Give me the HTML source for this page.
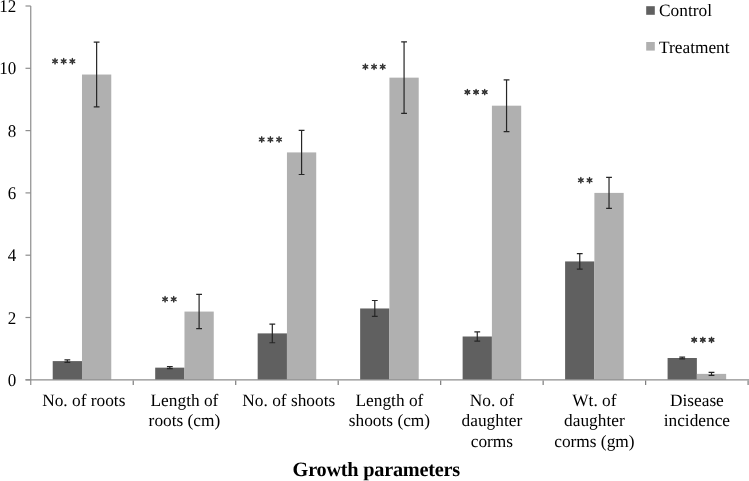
<!DOCTYPE html>
<html><head><meta charset="utf-8"><style>
html,body{margin:0;padding:0;background:#fff;}
body{width:749px;height:481px;position:relative;overflow:hidden;font-family:"Liberation Serif",serif;color:#000;}
</style></head><body>
<svg width="749" height="481" viewBox="0 0 749 481" style="position:absolute;left:0;top:0;will-change:transform" font-family="Liberation Serif, serif" text-rendering="geometricPrecision">
<rect x="52.71" y="361.11" width="29.28" height="18.69" fill="#606060"/>
<rect x="81.99" y="74.53" width="29.28" height="305.27" fill="#b0b0b0"/>
<rect x="155.19" y="367.65" width="29.28" height="12.15" fill="#606060"/>
<rect x="184.47" y="311.58" width="29.28" height="68.22" fill="#b0b0b0"/>
<rect x="257.67" y="333.39" width="29.28" height="46.41" fill="#606060"/>
<rect x="286.95" y="152.41" width="29.28" height="227.40" fill="#b0b0b0"/>
<rect x="360.15" y="308.47" width="29.28" height="71.33" fill="#606060"/>
<rect x="389.43" y="77.65" width="29.28" height="302.15" fill="#b0b0b0"/>
<rect x="462.63" y="336.50" width="29.28" height="43.30" fill="#606060"/>
<rect x="491.91" y="105.68" width="29.28" height="274.12" fill="#b0b0b0"/>
<rect x="565.11" y="261.43" width="29.28" height="118.37" fill="#606060"/>
<rect x="594.39" y="192.90" width="29.28" height="186.90" fill="#b0b0b0"/>
<rect x="667.59" y="358.00" width="29.28" height="21.81" fill="#606060"/>
<rect x="696.87" y="373.88" width="29.28" height="5.92" fill="#b0b0b0"/>
<path d="M30.75 6.00V385" stroke="#8e8e8e" stroke-width="1.2" fill="none"/>
<path d="M25.5 379.80H749" stroke="#8e8e8e" stroke-width="1.2" fill="none"/>
<path d="M25.5 379.80H30.75" stroke="#8e8e8e" stroke-width="1.2" fill="none"/>
<path d="M25.5 317.50H30.75" stroke="#8e8e8e" stroke-width="1.2" fill="none"/>
<path d="M25.5 255.20H30.75" stroke="#8e8e8e" stroke-width="1.2" fill="none"/>
<path d="M25.5 192.90H30.75" stroke="#8e8e8e" stroke-width="1.2" fill="none"/>
<path d="M25.5 130.60H30.75" stroke="#8e8e8e" stroke-width="1.2" fill="none"/>
<path d="M25.5 68.30H30.75" stroke="#8e8e8e" stroke-width="1.2" fill="none"/>
<path d="M25.5 6.00H30.75" stroke="#8e8e8e" stroke-width="1.2" fill="none"/>
<path d="M133.23 380.40V385" stroke="#7c7c7c" stroke-width="1.2" fill="none"/>
<path d="M235.71 380.40V385" stroke="#7c7c7c" stroke-width="1.2" fill="none"/>
<path d="M338.19 380.40V385" stroke="#7c7c7c" stroke-width="1.2" fill="none"/>
<path d="M440.67 380.40V385" stroke="#7c7c7c" stroke-width="1.2" fill="none"/>
<path d="M543.15 380.40V385" stroke="#7c7c7c" stroke-width="1.2" fill="none"/>
<path d="M645.63 380.40V385" stroke="#7c7c7c" stroke-width="1.2" fill="none"/>
<path d="M748.11 380.40V385" stroke="#7c7c7c" stroke-width="1.2" fill="none"/>
<path d="M67.35 359.86V362.36M64.45 359.86H70.25M64.45 362.36H70.25" stroke="#262626" stroke-width="1.2" fill="none"/>
<path d="M96.63 42.13V106.93M93.73 42.13H99.53M93.73 106.93H99.53" stroke="#262626" stroke-width="1.2" fill="none"/>
<path d="M169.83 366.65V368.65M166.93 366.65H172.73M166.93 368.65H172.73" stroke="#262626" stroke-width="1.2" fill="none"/>
<path d="M199.11 294.45V328.71M196.21 294.45H202.01M196.21 328.71H202.01" stroke="#262626" stroke-width="1.2" fill="none"/>
<path d="M272.31 324.04V342.73M269.41 324.04H275.21M269.41 342.73H275.21" stroke="#262626" stroke-width="1.2" fill="none"/>
<path d="M301.59 130.29V174.52M298.69 130.29H304.49M298.69 174.52H304.49" stroke="#262626" stroke-width="1.2" fill="none"/>
<path d="M374.79 300.52V316.41M371.89 300.52H377.69M371.89 316.41H377.69" stroke="#262626" stroke-width="1.2" fill="none"/>
<path d="M404.07 41.82V113.47M401.17 41.82H406.97M401.17 113.47H406.97" stroke="#262626" stroke-width="1.2" fill="none"/>
<path d="M477.27 331.83V341.17M474.37 331.83H480.17M474.37 341.17H480.17" stroke="#262626" stroke-width="1.2" fill="none"/>
<path d="M506.55 79.83V131.53M503.65 79.83H509.45M503.65 131.53H509.45" stroke="#262626" stroke-width="1.2" fill="none"/>
<path d="M579.75 253.64V269.22M576.85 253.64H582.65M576.85 269.22H582.65" stroke="#262626" stroke-width="1.2" fill="none"/>
<path d="M609.03 177.32V208.47M606.13 177.32H611.93M606.13 208.47H611.93" stroke="#262626" stroke-width="1.2" fill="none"/>
<path d="M682.23 357.06V358.93M679.33 357.06H685.13M679.33 358.93H685.13" stroke="#262626" stroke-width="1.2" fill="none"/>
<path d="M711.51 372.32V375.44M708.61 372.32H714.41M708.61 375.44H714.41" stroke="#262626" stroke-width="1.2" fill="none"/>
<text x="16.3" y="385.91" font-size="17.9" text-anchor="end" transform="translate(16.3 0) scale(0.95 1) translate(-16.3 0)">0</text>
<text x="16.3" y="323.61" font-size="17.9" text-anchor="end" transform="translate(16.3 0) scale(0.95 1) translate(-16.3 0)">2</text>
<text x="16.3" y="261.31" font-size="17.9" text-anchor="end" transform="translate(16.3 0) scale(0.95 1) translate(-16.3 0)">4</text>
<text x="16.3" y="199.01" font-size="17.9" text-anchor="end" transform="translate(16.3 0) scale(0.95 1) translate(-16.3 0)">6</text>
<text x="16.3" y="136.71" font-size="17.9" text-anchor="end" transform="translate(16.3 0) scale(0.95 1) translate(-16.3 0)">8</text>
<text x="16.3" y="74.41" font-size="17.9" text-anchor="end" transform="translate(16.3 0) scale(0.95 1) translate(-16.3 0)">10</text>
<text x="16.3" y="12.11" font-size="17.9" text-anchor="end" transform="translate(16.3 0) scale(0.95 1) translate(-16.3 0)">12</text>
<text x="83.79" y="406.30" font-size="17.33" text-anchor="middle">No. of roots</text>
<ellipse cx="55.03" cy="59.45" rx="1.7" ry="0.8" transform="rotate(-90 55.03 59.45)" fill="#2c2c2c"/>
<ellipse cx="56.55" cy="60.33" rx="1.7" ry="0.8" transform="rotate(-30 56.55 60.33)" fill="#2c2c2c"/>
<ellipse cx="56.55" cy="62.08" rx="1.7" ry="0.8" transform="rotate(30 56.55 62.08)" fill="#2c2c2c"/>
<ellipse cx="55.03" cy="62.95" rx="1.7" ry="0.8" transform="rotate(90 55.03 62.95)" fill="#2c2c2c"/>
<ellipse cx="53.51" cy="60.33" rx="1.7" ry="0.8" transform="rotate(-150 53.51 60.33)" fill="#2c2c2c"/>
<ellipse cx="53.51" cy="62.08" rx="1.7" ry="0.8" transform="rotate(-210 53.51 62.08)" fill="#2c2c2c"/>
<ellipse cx="63.70" cy="59.45" rx="1.7" ry="0.8" transform="rotate(-90 63.70 59.45)" fill="#2c2c2c"/>
<ellipse cx="65.22" cy="60.33" rx="1.7" ry="0.8" transform="rotate(-30 65.22 60.33)" fill="#2c2c2c"/>
<ellipse cx="65.22" cy="62.08" rx="1.7" ry="0.8" transform="rotate(30 65.22 62.08)" fill="#2c2c2c"/>
<ellipse cx="63.70" cy="62.95" rx="1.7" ry="0.8" transform="rotate(90 63.70 62.95)" fill="#2c2c2c"/>
<ellipse cx="62.18" cy="60.33" rx="1.7" ry="0.8" transform="rotate(-150 62.18 60.33)" fill="#2c2c2c"/>
<ellipse cx="62.18" cy="62.08" rx="1.7" ry="0.8" transform="rotate(-210 62.18 62.08)" fill="#2c2c2c"/>
<ellipse cx="72.37" cy="59.45" rx="1.7" ry="0.8" transform="rotate(-90 72.37 59.45)" fill="#2c2c2c"/>
<ellipse cx="73.89" cy="60.33" rx="1.7" ry="0.8" transform="rotate(-30 73.89 60.33)" fill="#2c2c2c"/>
<ellipse cx="73.89" cy="62.08" rx="1.7" ry="0.8" transform="rotate(30 73.89 62.08)" fill="#2c2c2c"/>
<ellipse cx="72.37" cy="62.95" rx="1.7" ry="0.8" transform="rotate(90 72.37 62.95)" fill="#2c2c2c"/>
<ellipse cx="70.85" cy="60.33" rx="1.7" ry="0.8" transform="rotate(-150 70.85 60.33)" fill="#2c2c2c"/>
<ellipse cx="70.85" cy="62.08" rx="1.7" ry="0.8" transform="rotate(-210 70.85 62.08)" fill="#2c2c2c"/>
<text x="184.47" y="406.30" font-size="17.33" text-anchor="middle">Length of</text>
<text x="184.47" y="426.40" font-size="17.33" text-anchor="middle">roots (cm)</text>
<ellipse cx="165.07" cy="297.55" rx="1.7" ry="0.8" transform="rotate(-90 165.07 297.55)" fill="#2c2c2c"/>
<ellipse cx="166.59" cy="298.43" rx="1.7" ry="0.8" transform="rotate(-30 166.59 298.43)" fill="#2c2c2c"/>
<ellipse cx="166.59" cy="300.18" rx="1.7" ry="0.8" transform="rotate(30 166.59 300.18)" fill="#2c2c2c"/>
<ellipse cx="165.07" cy="301.05" rx="1.7" ry="0.8" transform="rotate(90 165.07 301.05)" fill="#2c2c2c"/>
<ellipse cx="163.55" cy="298.43" rx="1.7" ry="0.8" transform="rotate(-150 163.55 298.43)" fill="#2c2c2c"/>
<ellipse cx="163.55" cy="300.18" rx="1.7" ry="0.8" transform="rotate(-210 163.55 300.18)" fill="#2c2c2c"/>
<ellipse cx="173.74" cy="297.55" rx="1.7" ry="0.8" transform="rotate(-90 173.74 297.55)" fill="#2c2c2c"/>
<ellipse cx="175.26" cy="298.43" rx="1.7" ry="0.8" transform="rotate(-30 175.26 298.43)" fill="#2c2c2c"/>
<ellipse cx="175.26" cy="300.18" rx="1.7" ry="0.8" transform="rotate(30 175.26 300.18)" fill="#2c2c2c"/>
<ellipse cx="173.74" cy="301.05" rx="1.7" ry="0.8" transform="rotate(90 173.74 301.05)" fill="#2c2c2c"/>
<ellipse cx="172.22" cy="298.43" rx="1.7" ry="0.8" transform="rotate(-150 172.22 298.43)" fill="#2c2c2c"/>
<ellipse cx="172.22" cy="300.18" rx="1.7" ry="0.8" transform="rotate(-210 172.22 300.18)" fill="#2c2c2c"/>
<text x="288.75" y="406.30" font-size="17.33" text-anchor="middle">No. of shoots</text>
<ellipse cx="261.73" cy="137.75" rx="1.7" ry="0.8" transform="rotate(-90 261.73 137.75)" fill="#2c2c2c"/>
<ellipse cx="263.25" cy="138.62" rx="1.7" ry="0.8" transform="rotate(-30 263.25 138.62)" fill="#2c2c2c"/>
<ellipse cx="263.25" cy="140.38" rx="1.7" ry="0.8" transform="rotate(30 263.25 140.38)" fill="#2c2c2c"/>
<ellipse cx="261.73" cy="141.25" rx="1.7" ry="0.8" transform="rotate(90 261.73 141.25)" fill="#2c2c2c"/>
<ellipse cx="260.21" cy="138.62" rx="1.7" ry="0.8" transform="rotate(-150 260.21 138.62)" fill="#2c2c2c"/>
<ellipse cx="260.21" cy="140.38" rx="1.7" ry="0.8" transform="rotate(-210 260.21 140.38)" fill="#2c2c2c"/>
<ellipse cx="270.40" cy="137.75" rx="1.7" ry="0.8" transform="rotate(-90 270.40 137.75)" fill="#2c2c2c"/>
<ellipse cx="271.92" cy="138.62" rx="1.7" ry="0.8" transform="rotate(-30 271.92 138.62)" fill="#2c2c2c"/>
<ellipse cx="271.92" cy="140.38" rx="1.7" ry="0.8" transform="rotate(30 271.92 140.38)" fill="#2c2c2c"/>
<ellipse cx="270.40" cy="141.25" rx="1.7" ry="0.8" transform="rotate(90 270.40 141.25)" fill="#2c2c2c"/>
<ellipse cx="268.88" cy="138.62" rx="1.7" ry="0.8" transform="rotate(-150 268.88 138.62)" fill="#2c2c2c"/>
<ellipse cx="268.88" cy="140.38" rx="1.7" ry="0.8" transform="rotate(-210 268.88 140.38)" fill="#2c2c2c"/>
<ellipse cx="279.07" cy="137.75" rx="1.7" ry="0.8" transform="rotate(-90 279.07 137.75)" fill="#2c2c2c"/>
<ellipse cx="280.59" cy="138.62" rx="1.7" ry="0.8" transform="rotate(-30 280.59 138.62)" fill="#2c2c2c"/>
<ellipse cx="280.59" cy="140.38" rx="1.7" ry="0.8" transform="rotate(30 280.59 140.38)" fill="#2c2c2c"/>
<ellipse cx="279.07" cy="141.25" rx="1.7" ry="0.8" transform="rotate(90 279.07 141.25)" fill="#2c2c2c"/>
<ellipse cx="277.55" cy="138.62" rx="1.7" ry="0.8" transform="rotate(-150 277.55 138.62)" fill="#2c2c2c"/>
<ellipse cx="277.55" cy="140.38" rx="1.7" ry="0.8" transform="rotate(-210 277.55 140.38)" fill="#2c2c2c"/>
<text x="389.43" y="406.30" font-size="17.33" text-anchor="middle">Length of</text>
<text x="389.43" y="426.40" font-size="17.33" text-anchor="middle">shoots (cm)</text>
<ellipse cx="365.38" cy="65.00" rx="1.7" ry="0.8" transform="rotate(-90 365.38 65.00)" fill="#2c2c2c"/>
<ellipse cx="366.90" cy="65.88" rx="1.7" ry="0.8" transform="rotate(-30 366.90 65.88)" fill="#2c2c2c"/>
<ellipse cx="366.90" cy="67.62" rx="1.7" ry="0.8" transform="rotate(30 366.90 67.62)" fill="#2c2c2c"/>
<ellipse cx="365.38" cy="68.50" rx="1.7" ry="0.8" transform="rotate(90 365.38 68.50)" fill="#2c2c2c"/>
<ellipse cx="363.86" cy="65.88" rx="1.7" ry="0.8" transform="rotate(-150 363.86 65.88)" fill="#2c2c2c"/>
<ellipse cx="363.86" cy="67.62" rx="1.7" ry="0.8" transform="rotate(-210 363.86 67.62)" fill="#2c2c2c"/>
<ellipse cx="374.05" cy="65.00" rx="1.7" ry="0.8" transform="rotate(-90 374.05 65.00)" fill="#2c2c2c"/>
<ellipse cx="375.57" cy="65.88" rx="1.7" ry="0.8" transform="rotate(-30 375.57 65.88)" fill="#2c2c2c"/>
<ellipse cx="375.57" cy="67.62" rx="1.7" ry="0.8" transform="rotate(30 375.57 67.62)" fill="#2c2c2c"/>
<ellipse cx="374.05" cy="68.50" rx="1.7" ry="0.8" transform="rotate(90 374.05 68.50)" fill="#2c2c2c"/>
<ellipse cx="372.53" cy="65.88" rx="1.7" ry="0.8" transform="rotate(-150 372.53 65.88)" fill="#2c2c2c"/>
<ellipse cx="372.53" cy="67.62" rx="1.7" ry="0.8" transform="rotate(-210 372.53 67.62)" fill="#2c2c2c"/>
<ellipse cx="382.72" cy="65.00" rx="1.7" ry="0.8" transform="rotate(-90 382.72 65.00)" fill="#2c2c2c"/>
<ellipse cx="384.24" cy="65.88" rx="1.7" ry="0.8" transform="rotate(-30 384.24 65.88)" fill="#2c2c2c"/>
<ellipse cx="384.24" cy="67.62" rx="1.7" ry="0.8" transform="rotate(30 384.24 67.62)" fill="#2c2c2c"/>
<ellipse cx="382.72" cy="68.50" rx="1.7" ry="0.8" transform="rotate(90 382.72 68.50)" fill="#2c2c2c"/>
<ellipse cx="381.20" cy="65.88" rx="1.7" ry="0.8" transform="rotate(-150 381.20 65.88)" fill="#2c2c2c"/>
<ellipse cx="381.20" cy="67.62" rx="1.7" ry="0.8" transform="rotate(-210 381.20 67.62)" fill="#2c2c2c"/>
<text x="491.91" y="406.30" font-size="17.33" text-anchor="middle">No. of</text>
<text x="491.91" y="426.40" font-size="17.33" text-anchor="middle">daughter</text>
<text x="491.91" y="446.50" font-size="17.33" text-anchor="middle">corms</text>
<ellipse cx="467.38" cy="90.35" rx="1.7" ry="0.8" transform="rotate(-90 467.38 90.35)" fill="#2c2c2c"/>
<ellipse cx="468.90" cy="91.22" rx="1.7" ry="0.8" transform="rotate(-30 468.90 91.22)" fill="#2c2c2c"/>
<ellipse cx="468.90" cy="92.97" rx="1.7" ry="0.8" transform="rotate(30 468.90 92.97)" fill="#2c2c2c"/>
<ellipse cx="467.38" cy="93.85" rx="1.7" ry="0.8" transform="rotate(90 467.38 93.85)" fill="#2c2c2c"/>
<ellipse cx="465.86" cy="91.22" rx="1.7" ry="0.8" transform="rotate(-150 465.86 91.22)" fill="#2c2c2c"/>
<ellipse cx="465.86" cy="92.97" rx="1.7" ry="0.8" transform="rotate(-210 465.86 92.97)" fill="#2c2c2c"/>
<ellipse cx="476.05" cy="90.35" rx="1.7" ry="0.8" transform="rotate(-90 476.05 90.35)" fill="#2c2c2c"/>
<ellipse cx="477.57" cy="91.22" rx="1.7" ry="0.8" transform="rotate(-30 477.57 91.22)" fill="#2c2c2c"/>
<ellipse cx="477.57" cy="92.97" rx="1.7" ry="0.8" transform="rotate(30 477.57 92.97)" fill="#2c2c2c"/>
<ellipse cx="476.05" cy="93.85" rx="1.7" ry="0.8" transform="rotate(90 476.05 93.85)" fill="#2c2c2c"/>
<ellipse cx="474.53" cy="91.22" rx="1.7" ry="0.8" transform="rotate(-150 474.53 91.22)" fill="#2c2c2c"/>
<ellipse cx="474.53" cy="92.97" rx="1.7" ry="0.8" transform="rotate(-210 474.53 92.97)" fill="#2c2c2c"/>
<ellipse cx="484.72" cy="90.35" rx="1.7" ry="0.8" transform="rotate(-90 484.72 90.35)" fill="#2c2c2c"/>
<ellipse cx="486.24" cy="91.22" rx="1.7" ry="0.8" transform="rotate(-30 486.24 91.22)" fill="#2c2c2c"/>
<ellipse cx="486.24" cy="92.97" rx="1.7" ry="0.8" transform="rotate(30 486.24 92.97)" fill="#2c2c2c"/>
<ellipse cx="484.72" cy="93.85" rx="1.7" ry="0.8" transform="rotate(90 484.72 93.85)" fill="#2c2c2c"/>
<ellipse cx="483.20" cy="91.22" rx="1.7" ry="0.8" transform="rotate(-150 483.20 91.22)" fill="#2c2c2c"/>
<ellipse cx="483.20" cy="92.97" rx="1.7" ry="0.8" transform="rotate(-210 483.20 92.97)" fill="#2c2c2c"/>
<text x="594.39" y="406.30" font-size="17.33" text-anchor="middle">Wt. of</text>
<text x="594.39" y="426.40" font-size="17.33" text-anchor="middle">daughter</text>
<text x="594.39" y="446.50" font-size="17.33" text-anchor="middle">corms (gm)</text>
<ellipse cx="580.87" cy="178.55" rx="1.7" ry="0.8" transform="rotate(-90 580.87 178.55)" fill="#2c2c2c"/>
<ellipse cx="582.39" cy="179.43" rx="1.7" ry="0.8" transform="rotate(-30 582.39 179.43)" fill="#2c2c2c"/>
<ellipse cx="582.39" cy="181.18" rx="1.7" ry="0.8" transform="rotate(30 582.39 181.18)" fill="#2c2c2c"/>
<ellipse cx="580.87" cy="182.05" rx="1.7" ry="0.8" transform="rotate(90 580.87 182.05)" fill="#2c2c2c"/>
<ellipse cx="579.35" cy="179.43" rx="1.7" ry="0.8" transform="rotate(-150 579.35 179.43)" fill="#2c2c2c"/>
<ellipse cx="579.35" cy="181.18" rx="1.7" ry="0.8" transform="rotate(-210 579.35 181.18)" fill="#2c2c2c"/>
<ellipse cx="589.54" cy="178.55" rx="1.7" ry="0.8" transform="rotate(-90 589.54 178.55)" fill="#2c2c2c"/>
<ellipse cx="591.06" cy="179.43" rx="1.7" ry="0.8" transform="rotate(-30 591.06 179.43)" fill="#2c2c2c"/>
<ellipse cx="591.06" cy="181.18" rx="1.7" ry="0.8" transform="rotate(30 591.06 181.18)" fill="#2c2c2c"/>
<ellipse cx="589.54" cy="182.05" rx="1.7" ry="0.8" transform="rotate(90 589.54 182.05)" fill="#2c2c2c"/>
<ellipse cx="588.02" cy="179.43" rx="1.7" ry="0.8" transform="rotate(-150 588.02 179.43)" fill="#2c2c2c"/>
<ellipse cx="588.02" cy="181.18" rx="1.7" ry="0.8" transform="rotate(-210 588.02 181.18)" fill="#2c2c2c"/>
<text x="696.87" y="406.30" font-size="17.33" text-anchor="middle">Disease</text>
<text x="696.87" y="426.40" font-size="17.33" text-anchor="middle">incidence</text>
<ellipse cx="694.18" cy="338.15" rx="1.7" ry="0.8" transform="rotate(-90 694.18 338.15)" fill="#2c2c2c"/>
<ellipse cx="695.70" cy="339.02" rx="1.7" ry="0.8" transform="rotate(-30 695.70 339.02)" fill="#2c2c2c"/>
<ellipse cx="695.70" cy="340.77" rx="1.7" ry="0.8" transform="rotate(30 695.70 340.77)" fill="#2c2c2c"/>
<ellipse cx="694.18" cy="341.65" rx="1.7" ry="0.8" transform="rotate(90 694.18 341.65)" fill="#2c2c2c"/>
<ellipse cx="692.66" cy="339.02" rx="1.7" ry="0.8" transform="rotate(-150 692.66 339.02)" fill="#2c2c2c"/>
<ellipse cx="692.66" cy="340.77" rx="1.7" ry="0.8" transform="rotate(-210 692.66 340.77)" fill="#2c2c2c"/>
<ellipse cx="702.85" cy="338.15" rx="1.7" ry="0.8" transform="rotate(-90 702.85 338.15)" fill="#2c2c2c"/>
<ellipse cx="704.37" cy="339.02" rx="1.7" ry="0.8" transform="rotate(-30 704.37 339.02)" fill="#2c2c2c"/>
<ellipse cx="704.37" cy="340.77" rx="1.7" ry="0.8" transform="rotate(30 704.37 340.77)" fill="#2c2c2c"/>
<ellipse cx="702.85" cy="341.65" rx="1.7" ry="0.8" transform="rotate(90 702.85 341.65)" fill="#2c2c2c"/>
<ellipse cx="701.33" cy="339.02" rx="1.7" ry="0.8" transform="rotate(-150 701.33 339.02)" fill="#2c2c2c"/>
<ellipse cx="701.33" cy="340.77" rx="1.7" ry="0.8" transform="rotate(-210 701.33 340.77)" fill="#2c2c2c"/>
<ellipse cx="711.52" cy="338.15" rx="1.7" ry="0.8" transform="rotate(-90 711.52 338.15)" fill="#2c2c2c"/>
<ellipse cx="713.04" cy="339.02" rx="1.7" ry="0.8" transform="rotate(-30 713.04 339.02)" fill="#2c2c2c"/>
<ellipse cx="713.04" cy="340.77" rx="1.7" ry="0.8" transform="rotate(30 713.04 340.77)" fill="#2c2c2c"/>
<ellipse cx="711.52" cy="341.65" rx="1.7" ry="0.8" transform="rotate(90 711.52 341.65)" fill="#2c2c2c"/>
<ellipse cx="710.00" cy="339.02" rx="1.7" ry="0.8" transform="rotate(-150 710.00 339.02)" fill="#2c2c2c"/>
<ellipse cx="710.00" cy="340.77" rx="1.7" ry="0.8" transform="rotate(-210 710.00 340.77)" fill="#2c2c2c"/>
<text x="376.4" y="475.9" font-size="20.3" font-weight="bold" text-anchor="middle" textLength="167.6" lengthAdjust="spacing">Growth parameters</text>
<rect x="646.2" y="6.2" width="8.6" height="8.6" fill="#606060"/>
<text x="659" y="16.2" font-size="17.33">Control</text>
<rect x="646.2" y="42" width="8.6" height="8.6" fill="#b0b0b0"/>
<text x="659" y="52.9" font-size="17.33">Treatment</text>
</svg>
</body></html>
